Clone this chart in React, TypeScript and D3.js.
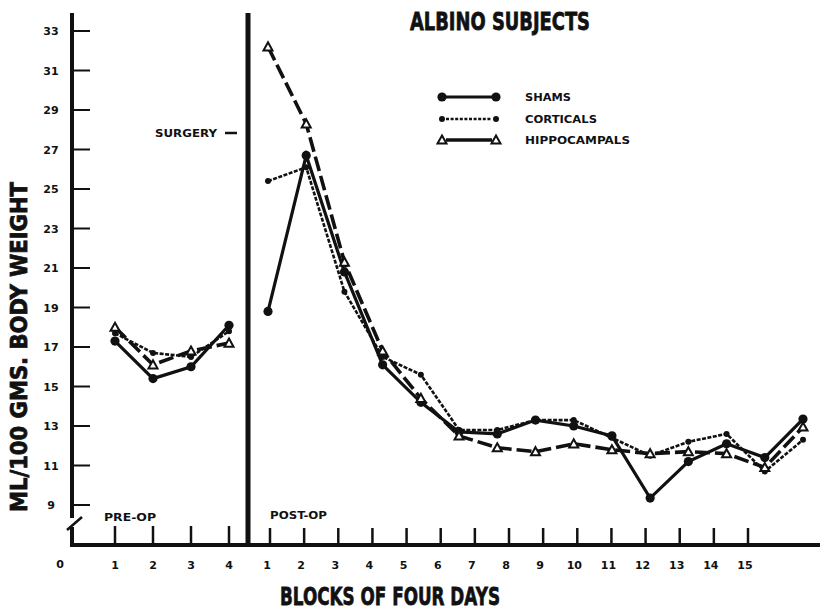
import React from "react";
import * as d3 from "d3";

const preBlocks = [1, 2, 3, 4];
const postBlocks = [1, 2, 3, 4, 5, 6, 7, 8, 9, 10, 11, 12, 13, 14, 15];
const yTicks = [9, 11, 13, 15, 17, 19, 21, 23, 25, 27, 29, 31, 33];

const shamsPre = [17.3, 15.4, 16.0, 18.1];
const corticalsPre = [17.7, 16.7, 16.5, 17.8];
const hippoPre = [18.0, 16.1, 16.8, 17.2];

const shamsPost = [18.8, 26.7, 20.8, 16.1, 14.2, 12.7, 12.6, 13.3, 13.0, 12.5, 9.35, 11.2, 12.1, 11.4, 13.35];
const corticalsPost = [25.4, 26.1, 19.8, 16.5, 15.6, 12.8, 12.8, 13.3, 13.3, 12.4, 11.5, 12.2, 12.6, 10.7, 12.3];
const hippoPost = [32.2, 28.3, 21.3, 16.8, 14.4, 12.5, 11.9, 11.7, 12.1, 11.8, 11.6, 11.7, 11.6, 10.9, 12.95];

const legendItems = ["SHAMS", "CORTICALS", "HIPPOCAMPALS"];

const INK = "#111";
const FONT = "'DejaVu Sans', sans-serif";

export default function App() {
  const W = 820, H = 610;
  const y = d3.scaleLinear().domain([9, 33]).range([505, 31]);
  const xPre = d3.scaleLinear().domain([1, 4]).range([115, 229]);
  const xPostTick = d3.scaleLinear().domain([1, 15]).range([270, 748]);
  const xPostData = d3.scaleLinear().domain([1, 15]).range([268, 803]);

  const axisY = 72;
  const baseY = 545;
  const surgeryX = 248;

  const lineGen = (xs: d3.ScaleLinear<number, number>, blocks: number[]) =>
    d3.line<number>().x((_, i) => xs(blocks[i])).y((v) => y(v));

  const series = [
    { pre: shamsPre, post: shamsPost, kind: "sham" },
    { pre: corticalsPre, post: corticalsPost, kind: "cort" },
    { pre: hippoPre, post: hippoPost, kind: "hippo" },
  ];

  const lineStyle = (kind: string) => {
    if (kind === "sham") return { stroke: INK, strokeWidth: 3.2, fill: "none" };
    if (kind === "cort") return { stroke: INK, strokeWidth: 2.6, fill: "none", strokeDasharray: "4,1.5" };
    return { stroke: INK, strokeWidth: 3.6, fill: "none", strokeDasharray: "15,5" };
  };

  const marker = (kind: string, cx: number, cy: number, key: string) => {
    if (kind === "sham") return <circle key={key} cx={cx} cy={cy} r={4.6} fill={INK} />;
    if (kind === "cort") return <circle key={key} cx={cx} cy={cy} r={3} fill={INK} />;
    const s = 4.5;
    const p = `M${cx},${cy - s} L${cx + s},${cy + s * 0.8} L${cx - s},${cy + s * 0.8} Z`;
    return <path key={key} d={p} fill="#fff" stroke={INK} strokeWidth={2} />;
  };

  const bold = { fontFamily: FONT, fontWeight: 900, fill: INK } as const;
  const heavy = { ...bold, stroke: INK, strokeWidth: 0.8 } as const;

  return (
    <svg width={W} height={H} style={{ position: "absolute", left: 0, top: 0, background: "#fff" }}>
      <rect width={W} height={H} fill="#fff" />
      {/* Y axis with break */}
      <line x1={axisY} y1={13} x2={axisY} y2={518} stroke={INK} strokeWidth={4} />
      <line x1={axisY} y1={527} x2={axisY} y2={baseY + 2} stroke={INK} strokeWidth={4} />
      <line x1={67} y1={530} x2={82} y2={517} stroke={INK} strokeWidth={2.5} />
      {/* X axis */}
      <line x1={axisY - 2} y1={baseY} x2={W} y2={baseY} stroke={INK} strokeWidth={4} />
      {/* surgery line */}
      <line x1={surgeryX} y1={13} x2={surgeryX} y2={baseY} stroke={INK} strokeWidth={5} />

      {/* y ticks */}
      {yTicks.map((t) => (
        <g key={"yt" + t}>
          <line x1={axisY} y1={y(t)} x2={axisY + 18} y2={y(t)} stroke={INK} strokeWidth={2} />
          <text x={51} y={y(t) + 4} textAnchor="middle" fontSize={11} {...bold}>{t}</text>
        </g>
      ))}

      {/* x ticks pre */}
      {preBlocks.map((b) => (
        <g key={"xp" + b}>
          <line x1={xPre(b)} y1={baseY} x2={xPre(b)} y2={baseY - 19} stroke={INK} strokeWidth={2.5} />
          <text x={xPre(b)} y={baseY + 24} textAnchor="middle" fontSize={11} {...bold}>{b}</text>
        </g>
      ))}
      {postBlocks.map((b) => (
        <g key={"xq" + b}>
          <line x1={xPostTick(b)} y1={baseY} x2={xPostTick(b)} y2={baseY - 17} stroke={INK} strokeWidth={2.5} />
          <text x={xPostTick(b) - 3} y={baseY + 24} textAnchor="middle" fontSize={11} {...bold}>{b}</text>
        </g>
      ))}
      <text x={60} y={baseY + 23} textAnchor="middle" fontSize={11} {...bold}>0</text>

      {/* Labels */}
      <text x={104} y={521} fontSize={10} textLength={52} lengthAdjust="spacingAndGlyphs" {...bold}>PRE-OP</text>
      <text x={270} y={519} fontSize={10} textLength={57} lengthAdjust="spacingAndGlyphs" {...bold}>POST-OP</text>
      <text x={155} y={137} fontSize={10} textLength={62} lengthAdjust="spacingAndGlyphs" {...bold}>SURGERY</text>
      <line x1={225} y1={133} x2={237} y2={133} stroke={INK} strokeWidth={2.5} />

      <text x={410} y={30} fontSize={25} textLength={180} lengthAdjust="spacingAndGlyphs" {...heavy}>ALBINO  SUBJECTS</text>

      <text x={280} y={605} fontSize={25} textLength={220} lengthAdjust="spacingAndGlyphs" {...heavy}>BLOCKS OF FOUR DAYS</text>

      <text
        transform={`translate(27,512) rotate(-90)`}
        fontSize={23}
        textLength={330}
        lengthAdjust="spacingAndGlyphs"
        {...heavy}
      >
        ML/100  GMS.  BODY  WEIGHT
      </text>

      {/* Legend */}
      {legendItems.map((name, i) => {
        const kind = series[i].kind;
        const ly = [97, 119, 140][i];
        const widths = [46, 72, 105];
        return (
          <g key={"lg" + name}>
            <line x1={446} y1={ly} x2={492} y2={ly} {...lineStyle(kind)} strokeDasharray={kind === "cort" ? "3,1.6" : undefined} />
            {marker(kind, 442, ly, "lm1" + i)}
            {marker(kind, 496, ly, "lm2" + i)}
            <text x={525} y={ly + 4} fontSize={10} textLength={widths[i]} lengthAdjust="spacingAndGlyphs" {...bold}>{name}</text>
          </g>
        );
      })}

      {/* Data */}
      {series.map((s) => (
        <g key={"s" + s.kind}>
          <path d={lineGen(xPre, preBlocks)(s.pre) || ""} {...lineStyle(s.kind)} />
          <path d={lineGen(xPostData, postBlocks)(s.post) || ""} {...lineStyle(s.kind)} />
        </g>
      ))}
      {series.map((s) => (
        <g key={"m" + s.kind}>
          {s.pre.map((v, i) => marker(s.kind, xPre(preBlocks[i]), y(v), s.kind + "p" + i))}
          {s.post.map((v, i) => marker(s.kind, xPostData(postBlocks[i]), y(v), s.kind + "q" + i))}
        </g>
      ))}
    </svg>
  );
}
